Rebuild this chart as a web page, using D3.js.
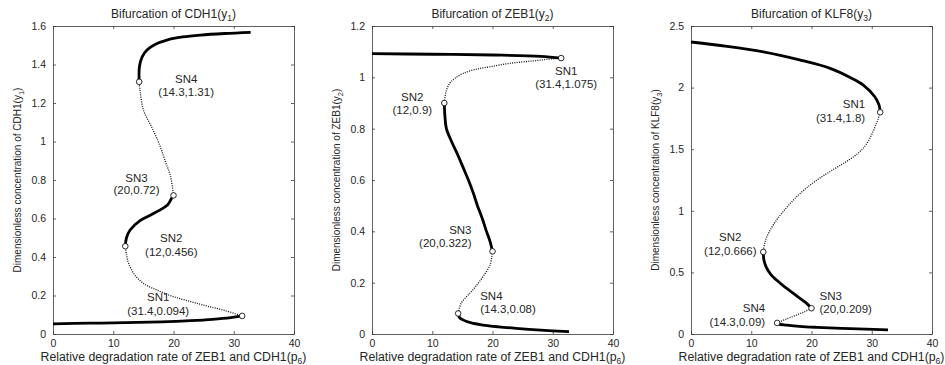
<!DOCTYPE html>
<html>
<head>
<meta charset="utf-8">
<script src="https://cdn.jsdelivr.net/npm/d3@7"></script>
<style>
  body { margin: 0; background: #fff; }
  svg { display: block; font-family: "Liberation Sans", Arial, sans-serif; }
</style>
</head>
<body>
<div id="chart"></div>
<script>
// x ticks shared by all three panels
const xTicks = [0, 10, 20, 30, 40];

// CDH1 (y1)
const cdh1YTicks = [0, 0.2, 0.4, 0.6, 0.8, 1, 1.2, 1.4, 1.6];
const cdh1Stable = [
  [[0, 0.053], [6, 0.056], [12, 0.059], [18, 0.063], [22.8, 0.069], [26.5, 0.076], [29.5, 0.085], [31.4, 0.094]],
  [[12, 0.456], [12.2, 0.5], [12.8, 0.54], [14.5, 0.59], [16.3, 0.62], [17.8, 0.645], [19, 0.67], [19.6, 0.70], [20, 0.72]],
  [[14.3, 1.31], [14.35, 1.39], [14.8, 1.44], [15.6, 1.475], [17, 1.505], [18.9, 1.527], [21.5, 1.543], [24.5, 1.553], [28.5, 1.561], [32.8, 1.567]]
];
const cdh1Unstable = [
  [[31.4, 0.094], [28.5, 0.122], [25.6, 0.145], [23, 0.167], [20, 0.194], [17.5, 0.225], [15, 0.263], [13.5, 0.31], [12.55, 0.367], [12.2, 0.41], [12, 0.456]],
  [[20, 0.72], [19.5, 0.82], [18.6, 0.9], [17.6, 0.99], [16.3, 1.08], [15.05, 1.16], [14.5, 1.25], [14.3, 1.31]]
];
const cdh1SN = [
  { name: 'SN1', p: 31.4, y: 0.094 },
  { name: 'SN2', p: 12, y: 0.456 },
  { name: 'SN3', p: 20, y: 0.72 },
  { name: 'SN4', p: 14.3, y: 1.31 }
];

// ZEB1 (y2)
const zeb1YTicks = [0, 0.2, 0.4, 0.6, 0.8, 1, 1.2];
const zeb1Stable = [
  [[0, 1.092], [10, 1.09], [20, 1.087], [28, 1.082], [31.4, 1.075]],
  [[12, 0.9], [12.1, 0.85], [12.35, 0.8], [13.2, 0.75], [14.2, 0.7], [15.1, 0.65], [16, 0.6], [16.8, 0.55], [17.5, 0.5], [18.3, 0.45], [19, 0.4], [19.6, 0.36], [20, 0.322]],
  [[14.3, 0.08], [14.5, 0.065], [15.1, 0.055], [16.5, 0.043], [18.4, 0.035], [21, 0.028], [23.9, 0.022], [28, 0.015], [32.7, 0.009]]
];
const zeb1Unstable = [
  [[31.4, 1.075], [29, 1.07], [26.7, 1.064], [23, 1.055], [19.5, 1.041], [17, 1.03], [15.1, 1.015], [13.7, 0.995], [12.9, 0.977], [12.3, 0.945], [12, 0.9]],
  [[20, 0.322], [19.6, 0.27], [18.4, 0.223], [17.2, 0.185], [16.2, 0.158], [14.8, 0.12], [14.3, 0.08]]
];
const zeb1SN = [
  { name: 'SN1', p: 31.4, y: 1.075 },
  { name: 'SN2', p: 12, y: 0.9 },
  { name: 'SN3', p: 20, y: 0.322 },
  { name: 'SN4', p: 14.3, y: 0.08 }
];

// KLF8 (y3)
const klf8YTicks = [0, 0.5, 1, 1.5, 2, 2.5];
const klf8Stable = [
  [[0, 2.37], [6, 2.335], [12, 2.29], [18, 2.225], [23.1, 2.156], [26.5, 2.08], [28.6, 2.02], [30.5, 1.926], [31.2, 1.86], [31.4, 1.8]],
  [[12, 0.666], [12.1, 0.6], [12.5, 0.54], [13.3, 0.48], [14.2, 0.438], [15.6, 0.38], [17, 0.33], [18.2, 0.285], [19.2, 0.249], [20, 0.209]],
  [[14.3, 0.09], [14.6, 0.08], [15.9, 0.072], [18, 0.062], [20.9, 0.054], [26.4, 0.043], [32.7, 0.034]]
];
const klf8Unstable = [
  [[31.4, 1.8], [30.8, 1.71], [29.2, 1.548], [27.8, 1.47], [25.8, 1.40], [23.3, 1.325], [20.9, 1.25], [18.8, 1.17], [17, 1.088], [15.4, 1.0], [14.2, 0.925], [13, 0.83], [12.3, 0.75], [12, 0.666]],
  [[20, 0.209], [18.8, 0.18], [17.5, 0.154], [16, 0.125], [14.3, 0.09]]
];
const klf8SN = [
  { name: 'SN1', p: 31.4, y: 1.8 },
  { name: 'SN2', p: 12, y: 0.666 },
  { name: 'SN3', p: 20, y: 0.209 },
  { name: 'SN4', p: 14.3, y: 0.09 }
];

// label placement relative to each marker (pixels): anchor, dx, dy of line 1, dy of line 2
const labelLayout = [
  [['middle', -84, -19, -5], ['middle', 46, -8, 5.5], ['middle', -37, -17, -5], ['middle', 47, -3, 10]],
  [['middle', 5, 13, 26], ['middle', -32, -6, 6.5], ['end', -21, -21, -8], ['start', 22, -17, -4]],
  [['end', -15, -8, 6], ['middle', -33, -15, -1], ['start', 8, -12, 1], ['end', -12, -15, -1]]
];

const panels = [
  { title: 'CDH1', sub: '1', yMax: 1.6, yTicks: cdh1YTicks, stable: cdh1Stable, unstable: cdh1Unstable, sn: cdh1SN },
  { title: 'ZEB1', sub: '2', yMax: 1.2, yTicks: zeb1YTicks, stable: zeb1Stable, unstable: zeb1Unstable, sn: zeb1SN },
  { title: 'KLF8', sub: '3', yMax: 2.5, yTicks: klf8YTicks, stable: klf8Stable, unstable: klf8Unstable, sn: klf8SN }
];

const width = 945, height = 365;
const lefts = [53, 372, 691];
const plotW = 241, plotTop = 26, plotBottom = 334;
const axisColor = '#3a3a3a', textColor = '#262626';

const svg = d3.select('#chart').append('svg')
  .attr('width', width)
  .attr('height', height);

panels.forEach((pn, i) => {
  const x = d3.scaleLinear().domain([0, 40]).range([lefts[i], lefts[i] + plotW]);
  const y = d3.scaleLinear().domain([0, pn.yMax]).range([plotBottom, plotTop]);
  const g = svg.append('g');

  // axes with inward ticks, MATLAB style box
  const fmt = d => String(d);
  const axB = g.append('g').attr('transform', `translate(0,${plotBottom})`)
    .call(d3.axisBottom(x).tickValues(xTicks).tickFormat(fmt).tickSizeInner(-3).tickSizeOuter(0).tickPadding(6));
  const axT = g.append('g').attr('transform', `translate(0,${plotTop})`)
    .call(d3.axisTop(x).tickValues(xTicks).tickFormat('').tickSizeInner(-3).tickSizeOuter(0));
  const axL = g.append('g').attr('transform', `translate(${lefts[i]},0)`)
    .call(d3.axisLeft(y).tickValues(pn.yTicks).tickFormat(fmt).tickSizeInner(-3).tickSizeOuter(0).tickPadding(7));
  const axR = g.append('g').attr('transform', `translate(${lefts[i] + plotW},0)`)
    .call(d3.axisRight(y).tickValues(pn.yTicks).tickFormat('').tickSizeInner(-3).tickSizeOuter(0));
  [axB, axT, axL, axR].forEach(a => {
    a.select('.domain').attr('stroke', axisColor).attr('stroke-width', 0.8);
    a.selectAll('.tick line').attr('stroke', axisColor).attr('stroke-width', 0.8);
    a.selectAll('.tick text').attr('fill', textColor).attr('font-size', 10.5)
      .attr('font-family', '"Liberation Sans", Arial, sans-serif');
  });

  const line = d3.line().x(d => x(d[0])).y(d => y(d[1])).curve(d3.curveCatmullRom.alpha(0.5));

  g.append('g').selectAll('path.unstable')
    .data(pn.unstable)
    .join('path')
    .attr('d', line)
    .attr('fill', 'none')
    .attr('stroke', '#111')
    .attr('stroke-width', 1.3)
    .attr('stroke-dasharray', '1,1.3');

  g.append('g').selectAll('path.stable')
    .data(pn.stable)
    .join('path')
    .attr('d', line)
    .attr('fill', 'none')
    .attr('stroke', '#000')
    .attr('stroke-width', 2.8)
    .attr('stroke-linecap', 'butt');

  g.append('g').selectAll('circle')
    .data(pn.sn)
    .join('circle')
    .attr('cx', d => x(d.p))
    .attr('cy', d => y(d.y))
    .attr('r', 2.8)
    .attr('fill', '#fff')
    .attr('stroke', '#111')
    .attr('stroke-width', 0.9);

  // SN annotations
  const lab = g.append('g').selectAll('g')
    .data(pn.sn)
    .join('g')
    .attr('font-size', 11.5)
    .attr('fill', textColor);
  lab.each(function(d, j) {
    const [anchor, dx, dy1, dy2] = labelLayout[i][j];
    const sel = d3.select(this);
    sel.append('text')
      .attr('x', x(d.p) + dx).attr('y', y(d.y) + dy1)
      .attr('dy', '0.35em').attr('text-anchor', anchor)
      .text(d.name);
    sel.append('text')
      .attr('x', x(d.p) + dx).attr('y', y(d.y) + dy2)
      .attr('dy', '0.35em').attr('text-anchor', anchor)
      .text(`(${d.p},${d.y})`);
  });

  const cx = lefts[i] + plotW / 2;

  // title
  const t = g.append('text')
    .attr('x', cx).attr('y', 18)
    .attr('text-anchor', 'middle')
    .attr('font-size', 12)
    .attr('fill', textColor);
  t.append('tspan').text(`Bifurcation of ${pn.title}(y`);
  t.append('tspan').attr('font-size', 8.5).attr('dy', 3).text(pn.sub);
  t.append('tspan').attr('dy', -3).text(')');

  // x label
  const xl = g.append('text')
    .attr('x', cx).attr('y', 361)
    .attr('text-anchor', 'middle')
    .attr('font-size', 12.3)
    .attr('fill', textColor);
  xl.append('tspan').text('Relative degradation rate of ZEB1 and CDH1(p');
  xl.append('tspan').attr('font-size', 8.5).attr('dy', 3).text('6');
  xl.append('tspan').attr('dy', -3).text(')');

  // y label
  const yl = g.append('text')
    .attr('transform', `translate(${lefts[i] - 32},${(plotTop + plotBottom) / 2}) rotate(-90)`)
    .attr('text-anchor', 'middle')
    .attr('font-size', 10)
    .attr('fill', textColor);
  yl.append('tspan').text(`Dimensionless concentration of ${pn.title}(y`);
  yl.append('tspan').attr('font-size', 7.5).attr('dy', 3).text(pn.sub);
  yl.append('tspan').attr('dy', -3).text(')');
});
</script>
</body>
</html>
